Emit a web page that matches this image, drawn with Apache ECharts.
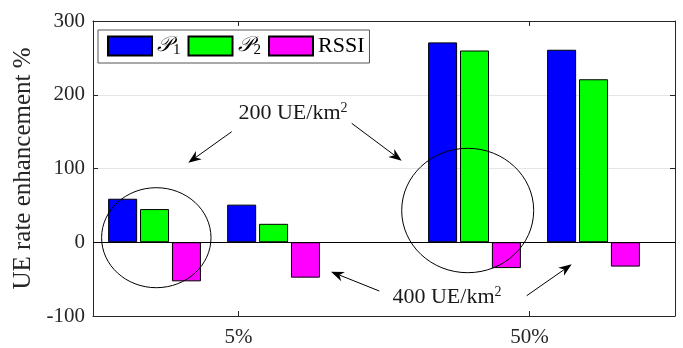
<!DOCTYPE html>
<html>
<head>
<meta charset="utf-8">
<script src="https://cdn.jsdelivr.net/npm/echarts@6/dist/echarts.min.js"></script>
<style>
  html, body { margin: 0; padding: 0; background: #fff; }
  #chart { width: 683px; height: 348px; }
</style>
</head>
<body>
<div id="chart"></div>
<script>
// UE rate enhancement (%) per scheme, for four scenario groups:
// [5% / 200 UE/km², 5% / 400 UE/km², 50% / 200 UE/km², 50% / 400 UE/km²]
const seriesNames = ['P1', 'P2', 'RSSI'];
const p1Values   = [59, 51, 271, 261];
const p2Values   = [45, 25, 260, 221];
const rssiValues = [-53, -48, -35, -33];
const xTickLabels = ['5%', '50%'];
const yTicks = [-100, 0, 100, 200, 300];
const densityLabels = ['200 UE/km', '400 UE/km'];

// layout: where each group sits along the x axis (axis spans 0..4, ticks at 1 and 3)
const groupPos = [0.423, 1.241, 2.622, 3.440];
const tickPos = [1, 3];

const FONT = "'Liberation Serif', 'DejaVu Serif', serif";
const AXIS_COLOR = '#262626';
const colors = ['#0000ff', '#00ff00', '#ff00ff'];
const valueSets = [p1Values, p2Values, rssiValues];

const chart = echarts.init(document.getElementById('chart'));

const series = seriesNames.map((name, i) => ({
  name: name,
  type: 'bar',
  xAxisIndex: 0,
  yAxisIndex: 0,
  barWidth: 29,
  barGap: '10%',
  itemStyle: { color: colors[i], borderColor: '#000', borderWidth: 1 },
  data: valueSets[i].map((v, k) => [groupPos[k], v]),
  z: 3
}));

// zero baseline
series[0].markLine = {
  silent: true,
  symbol: 'none',
  label: { show: false },
  lineStyle: { color: '#000', width: 1, type: 'solid' },
  data: [{ yAxis: 0 }],
  z: 4
};

const legendRich = {
  p: { fontFamily: "'DejaVu Serif', 'DejaVu Sans', serif", fontStyle: 'italic', fontSize: 21, color: '#000' },
  s: { fontFamily: FONT, fontSize: 15, color: '#000', verticalAlign: 'bottom', padding: [9, 0, 0, 1] },
  t: { fontFamily: FONT, fontSize: 22, color: '#000' }
};

const tickLabelStyle = { fontFamily: FONT, fontSize: 21, color: AXIS_COLOR };

chart.setOption({
  animation: false,
  backgroundColor: '#fff',
  grid: { left: 93, right: 8, top: 21, bottom: 31, containLabel: false },
  legend: {
    left: 98, top: 30,
    orient: 'horizontal',
    itemWidth: 44, itemHeight: 19, itemGap: 7,
    padding: [5, 5, 5, 9],
    borderColor: '#555', borderWidth: 1,
    backgroundColor: '#fff',
    icon: 'rect',
    data: seriesNames,
    formatter: name => name === 'RSSI' ? '{t|RSSI}' : '{p|𝒫}{s|' + name.slice(1) + '}',
    textStyle: { rich: legendRich }
  },
  xAxis: [{
    type: 'value', position: 'bottom', min: 0, max: 4, interval: 1,
    axisLine: { show: true, onZero: false, lineStyle: { color: AXIS_COLOR, width: 1 } },
    axisTick: { show: true, inside: true, length: 5, customValues: tickPos, lineStyle: { color: AXIS_COLOR } },
    axisLabel: { show: true, customValues: tickPos, margin: 11, ...tickLabelStyle,
      formatter: v => xTickLabels[tickPos.indexOf(v)] || '' },
    splitLine: { show: false }
  }, {
    type: 'value', position: 'top', min: 0, max: 4, interval: 1,
    axisLine: { show: true, onZero: false, lineStyle: { color: AXIS_COLOR, width: 1 } },
    axisTick: { show: true, inside: true, length: 5, customValues: tickPos, lineStyle: { color: AXIS_COLOR } },
    axisLabel: { show: false },
    splitLine: { show: false }
  }],
  yAxis: [{
    type: 'value', position: 'left', min: -100, max: 300, interval: 100,
    name: 'UE rate enhancement %',
    nameLocation: 'middle', nameGap: 56, nameRotate: 90,
    nameTextStyle: { fontFamily: FONT, fontSize: 25, color: AXIS_COLOR },
    axisLine: { show: true, onZero: false, lineStyle: { color: AXIS_COLOR, width: 1 } },
    axisTick: { show: true, inside: true, length: 5, lineStyle: { color: AXIS_COLOR } },
    axisLabel: { margin: 8, ...tickLabelStyle, formatter: v => yTicks.includes(v) ? String(v) : '' },
    splitLine: { show: true, lineStyle: { color: '#e6e6e6', width: 1 } }
  }, {
    type: 'value', position: 'right', min: -100, max: 300, interval: 100,
    axisLine: { show: true, onZero: false, lineStyle: { color: AXIS_COLOR, width: 1 } },
    axisTick: { show: true, inside: true, length: 5, lineStyle: { color: AXIS_COLOR } },
    axisLabel: { show: false },
    splitLine: { show: false }
  }],
  series: series
});

// annotations: ellipses around the 200 UE/km² groups, labels with arrows
function arrow(x1, y1, x2, y2) {
  const ang = Math.atan2(y2 - y1, x2 - x1);
  const len = 13, half = 5;
  const bx = x2 - len * Math.cos(ang), by = y2 - len * Math.sin(ang);
  const nx = -Math.sin(ang) * half, ny = Math.cos(ang) * half;
  const ix = x2 - len * 0.7 * Math.cos(ang), iy = y2 - len * 0.7 * Math.sin(ang);
  return [
    { type: 'line', shape: { x1: x1, y1: y1, x2: ix, y2: iy }, style: { stroke: '#000', lineWidth: 1 }, z: 10 },
    { type: 'polygon', shape: { points: [[x2, y2], [bx + nx, by + ny], [ix, iy], [bx - nx, by - ny]] },
      style: { fill: '#000' }, z: 10 }
  ];
}

const labelRich = {
  a: { fontFamily: FONT, fontSize: 22, fill: '#1a1a1a' },
  sup: { fontFamily: FONT, fontSize: 14, fill: '#1a1a1a', verticalAlign: 'top', padding: [0, 0, 9, 0] }
};

chart.setOption({
  graphic: [
    { type: 'ellipse', shape: { cx: 156.3, cy: 237.7, rx: 54.7, ry: 50 },
      style: { fill: 'none', stroke: '#000', lineWidth: 1 }, z: 10 },
    { type: 'ellipse', shape: { cx: 467.7, cy: 210.5, rx: 66, ry: 62.2 },
      style: { fill: 'none', stroke: '#000', lineWidth: 1 }, z: 10 },
    { type: 'text', x: 293, y: 113, z: 10,
      style: { text: '{a|' + densityLabels[0] + '}{sup|2}', rich: labelRich, align: 'center', verticalAlign: 'middle' } },
    { type: 'text', x: 447, y: 297, z: 10,
      style: { text: '{a|' + densityLabels[1] + '}{sup|2}', rich: labelRich, align: 'center', verticalAlign: 'middle' } },
    ...arrow(231.7, 131.7, 188.3, 162.7),
    ...arrow(351.7, 123.3, 401.7, 160.7),
    ...arrow(379.3, 291, 331, 271.7),
    ...arrow(526.7, 295.7, 571.7, 264.3)
  ]
});
</script>
</body>
</html>
